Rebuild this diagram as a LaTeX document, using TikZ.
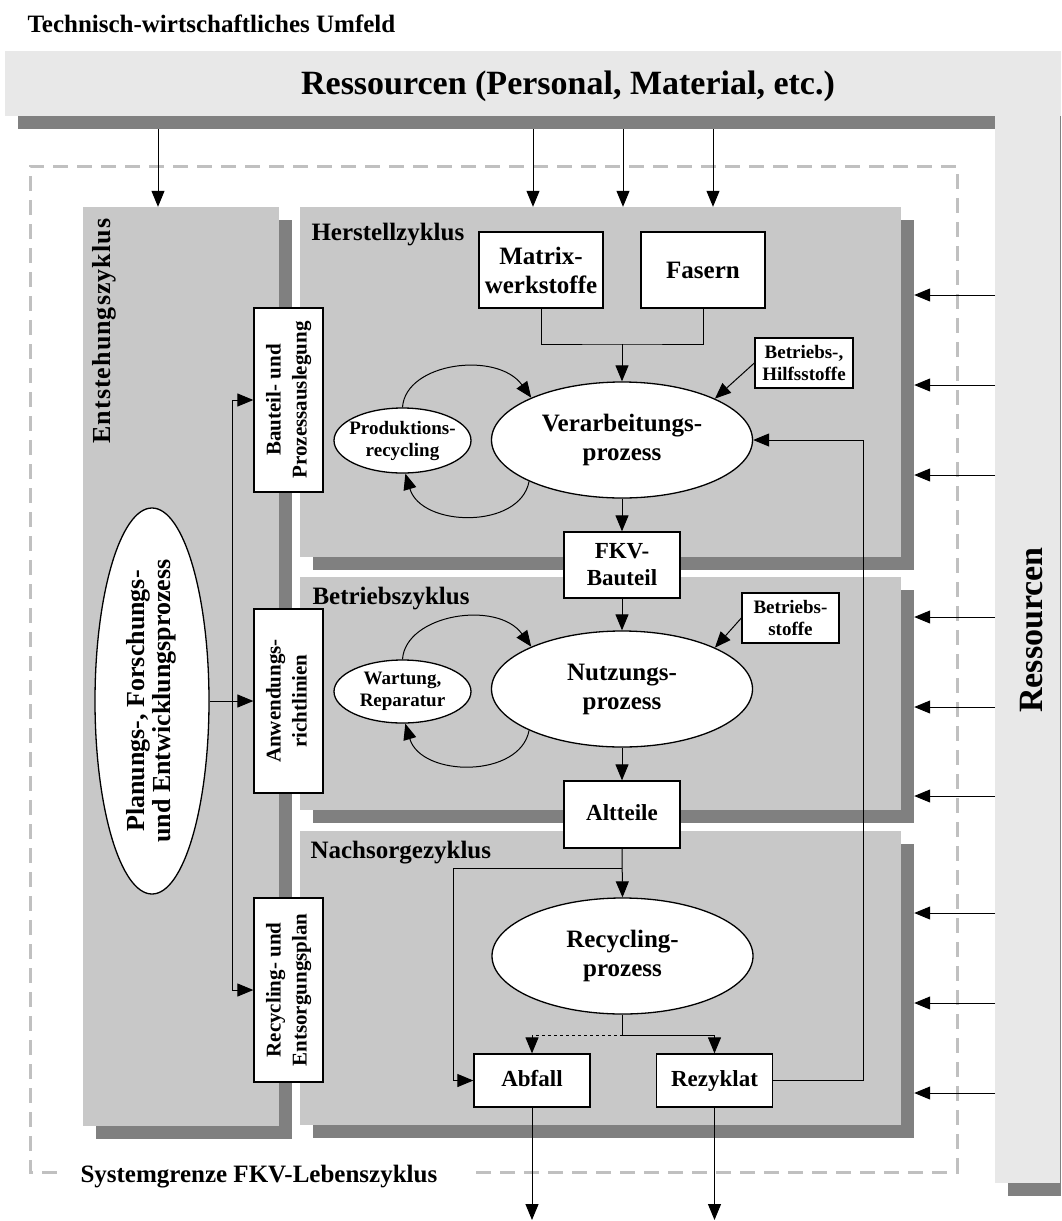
\documentclass[tikz,border=0pt]{standalone}
\usepackage{fontspec}
\setmainfont{Liberation Serif}
\usetikzlibrary{arrows.meta,shapes.geometric}
\definecolor{bannergray}{HTML}{E8E8E8}
\definecolor{panelgray}{HTML}{C8C8C8}
\definecolor{shadowgray}{HTML}{808080}
\definecolor{dashgray}{HTML}{C0C0C0}
\newcommand\fBig{\fontsize{34}{40}\selectfont\bfseries}
\newcommand\fLab{\fontsize{25}{29}\selectfont\bfseries}
\newcommand\fMid{\fontsize{23}{27}\selectfont\bfseries}
\newcommand\fSm{\fontsize{19}{22}\selectfont\bfseries}
\newcommand\fRot{\fontsize{21}{26}\selectfont\bfseries}
\newcommand\fPlan{\fontsize{26}{25}\selectfont\bfseries}
\begin{document}
\begin{tikzpicture}[x=1pt,y=-1pt,font=\bfseries,
  arr/.style={-{Triangle[length=16pt,width=13pt]},line width=1pt},
  conn/.style={line width=1pt},
  whitebox/.style={draw,line width=1.3pt,fill=white,inner sep=0pt,align=center},
  vbox/.style={draw,line width=1.3pt,fill=white,inner sep=0pt,minimum width=69pt,minimum height=184pt},
  oval/.style={ellipse,draw,line width=1.3pt,fill=white,inner sep=0pt},
  panel/.style={fill=panelgray,inner sep=0pt},
  shade/.style={fill=shadowgray,inner sep=0pt},
  dashline/.style={draw=dashgray,line width=3pt,dash pattern=on 15pt off 9pt}
]
\useasboundingbox (0,0) rectangle (1061,1221);

% environment resources
\fill[shadowgray] (18,64) rectangle (995,129);
\fill[shadowgray] (1008,64) rectangle (1061,1196);
\fill[bannergray] (5,51) rectangle (1061,116);
\fill[bannergray] (995,51) rectangle (1060,1183);
\node[anchor=base west,font=\fLab] (title) at (24,32) {Technisch-wirtschaftliches Umfeld};
\node[anchor=base,font=\fBig] (bannertext) at (568,94) {Ressourcen (Personal, Material, etc.)};
\node[rotate=90,font=\fBig] (righttext) at (1032,630) {Ressourcen};

% system boundary
\draw[dashline] (57,1172) -- (30,1172) -- (30,166) -- (957,166) -- (957,1172) -- (472,1172);
\node[anchor=base west,font=\fLab] (sysgrenze) at (77,1182) {Systemgrenze FKV-Lebenszyklus};

% panels with shadows
\node[shade,minimum width=196pt,minimum height=919pt] (esh) at (194,679.5) {};
\node[shade,minimum width=601pt,minimum height=350pt] (hsh) at (613.5,395) {};
\node[shade,minimum width=601pt,minimum height=233pt] (bsh) at (613.5,706.5) {};
\node[shade,minimum width=601pt,minimum height=294pt] (nsh) at (613.5,991) {};
\node[panel,minimum width=196pt,minimum height=919pt] (entst) at (181,666.5) {};
\node[panel,minimum width=601pt,minimum height=350pt] (herst) at (600.5,382) {};
\node[panel,minimum width=601pt,minimum height=233pt] (betr) at (600.5,693.5) {};
\node[panel,minimum width=601pt,minimum height=294pt] (nach) at (600.5,978) {};

\node[rotate=90,anchor=base west,font=\fontsize{26}{30}\selectfont\bfseries\addfontfeature{LetterSpace=4}] (entsttext) at (110,447) {Entstehungszyklus};
\node[anchor=base west,font=\fLab] (hersttext) at (308,240) {Herstellzyklus};
\node[anchor=base west,font=\fLab] (betrtext) at (309,604) {Betriebszyklus};
\node[anchor=base west,font=\fLab] (nachtext) at (307,858) {Nachsorgezyklus};

% left column
\node[oval,minimum width=114pt,minimum height=386pt,
  label={center:{\rotatebox{90}{\fPlan\begin{tabular}{@{}c@{}}Planungs-, Forschungs-\\und Entwicklungsprozess\end{tabular}}}}] (plan) at (152,701) {};
\node[vbox] (bauteil) at (288.5,400) {\rotatebox{90}{\fRot\begin{tabular}{@{}c@{}}Bauteil- und\\Prozessauslegung\end{tabular}}};
\node[vbox] (anw) at (288.5,701) {\rotatebox{90}{\fRot\begin{tabular}{@{}c@{}}Anwendungs-\\richtlinien\end{tabular}}};
\node[vbox] (recpl) at (288.5,990) {\rotatebox{90}{\fRot\begin{tabular}{@{}c@{}}Recycling- und\\Entsorgungsplan\end{tabular}}};

% Herstellzyklus
\node[whitebox,font=\fLab,minimum width=124pt,minimum height=76pt] (matrix) at (541,270) {Matrix-\\werkstoffe};
\node[whitebox,font=\fLab,minimum width=124pt,minimum height=76pt] (fasern) at (703,270) {Fasern};
\node[whitebox,font=\fSm,minimum width=98pt,minimum height=50pt] (bhs) at (804,363) {Betriebs-,\\Hilfsstoffe};
\node[oval,minimum width=261pt,minimum height=116pt,
  label={[font=\fLab,align=center]center:Verarbeitungs-\\prozess}] (verarb) at (622,440) {};
\node[oval,minimum width=137pt,minimum height=65pt,
  label={[font=\fSm,align=center]center:Produktions-\\recycling}] (prod) at (402.5,440.5) {};
\node[whitebox,font=\fMid,minimum width=116pt,minimum height=66pt] (fkv) at (622,565) {FKV-\\Bauteil};

% Betriebszyklus
\node[whitebox,font=\fSm,minimum width=97pt,minimum height=50pt] (bst) at (790.5,618) {Betriebs-\\stoffe};
\node[oval,minimum width=261pt,minimum height=116pt,
  label={[font=\fLab,align=center]center:Nutzungs-\\prozess}] (nutz) at (622,689) {};
\node[oval,minimum width=137pt,minimum height=63pt,
  label={[font=\fSm,align=center]center:{Wartung,\\Reparatur}}] (wart) at (402.5,691.5) {};
\node[whitebox,font=\fMid,minimum width=116pt,minimum height=67pt,text height=16pt,text depth=5pt] (alt) at (622,814.5) {Altteile};

% Nachsorgezyklus
\node[oval,minimum width=261pt,minimum height=116pt,
  label={[font=\fLab,align=center]center:Recycling-\\prozess}] (recyc) at (622.5,956) {};
\node[whitebox,font=\fMid,minimum width=116pt,minimum height=53pt,text height=16pt,text depth=5pt] (abfall) at (532,1080.5) {Abfall};
\node[whitebox,font=\fMid,minimum width=116pt,minimum height=53pt,text height=16pt,text depth=5pt] (rezyklat) at (714.5,1080.5) {Rezyklat};

% top resource arrows
\coordinate (ta1) at (158,129);
\coordinate (ta2) at (533,129);
\coordinate (ta3) at (623,129);
\coordinate (ta4) at (713,129);
\draw[arr] (ta1) -- (ta1 |- entst.north);
\draw[arr] (ta2) -- (ta2 |- herst.north);
\draw[arr] (ta3) -- (ta3 |- herst.north);
\draw[arr] (ta4) -- (ta4 |- herst.north);

% right resource arrows
\foreach \yy/\sh [count=\i] in {295/hsh,385/hsh,475/hsh,617/bsh,707/bsh,796/bsh,913/nsh,1003/nsh,1093/nsh}{
  \coordinate (ra\i) at (995,\yy);
  \draw[arr] (ra\i) -- (ra\i -| \sh.east);
}

% left column connectors
\coordinate (vtop) at (232,400);
\coordinate (vbot) at (232,990);
\draw[conn] (vtop) -- (vbot);
\draw[arr] (vtop) -- (bauteil.west);
\draw[arr] (vbot) -- (recpl.west);
\draw[arr] (plan.east) -- (anw.west);

% Herstell connectors
\coordinate (mj) at (622,344);
\draw[conn] (matrix.south) |- (mj) -| (fasern.south);
\draw[arr] (mj) -- (verarb.north);
\draw[arr] (bhs.west) -- (verarb.24);
\draw[arr] (prod.north) .. controls +(3,-45) and +(-34,-47) .. (verarb.155);
\draw[arr] (verarb.204) .. controls +(-9,48) and +(16,54) .. (prod.-85);
\draw[arr] (verarb.south) -- (fkv.north);

% Betrieb connectors
\draw[arr] (fkv.south) -- (nutz.north);
\draw[arr] (bst.west) -- (nutz.24);
\draw[arr] (wart.north) .. controls +(3,-45) and +(-34,-47) .. (nutz.155);
\draw[arr] (nutz.204) .. controls +(-9,48) and +(16,54) .. (wart.-85);
\draw[arr] (nutz.south) -- (alt.north);

% Nachsorge connectors
\coordinate (aj) at (622,868);
\coordinate (al) at (453,868);
\draw[arr] (alt.south) -- (recyc.north);
\draw[arr] (aj) -- (al) |- (abfall.west);
\coordinate (rj) at (622.5,1035);
\draw[conn] (recyc.south) -- (rj);
\draw[arr] (rj) -| (rezyklat.north);
\draw[arr,dashed] (rj) -| (abfall.north);
\coordinate (fb) at (863,440);
\draw[arr] (rezyklat.east) -| (fb) -- (verarb.east);
\coordinate (out1) at (532,1220);
\coordinate (out2) at (714.5,1220);
\draw[arr] (abfall.south) -- (out1);
\draw[arr] (rezyklat.south) -- (out2);
\end{tikzpicture}
\end{document}
